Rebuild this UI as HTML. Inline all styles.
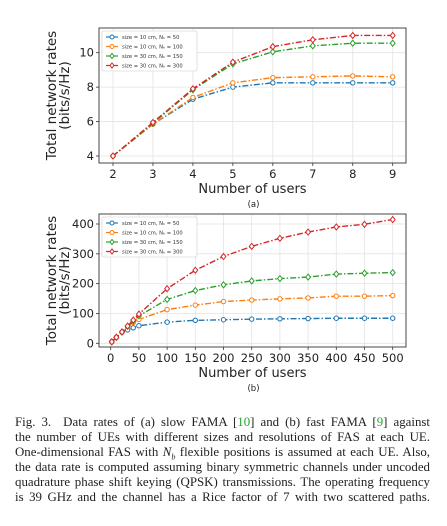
<!DOCTYPE html>
<html><head><meta charset="utf-8"><style>
html,body{margin:0;padding:0;background:#fff;width:447px;height:526px;overflow:hidden}
svg{position:absolute;left:0;top:0}
#cap{position:absolute;left:15px;top:415px;width:415px;font-family:"Liberation Serif",serif;font-size:12.9px;line-height:15px;color:#222}
#cap div{text-align:justify;text-align-last:justify;white-space:nowrap}
#cap .g{color:#2ca02c}
</style></head><body>
<svg id="svg" width="447" height="410"></svg>
<div id="cap">
<div>Fig. 3.&nbsp; Data rates of (a) slow FAMA [<span class="g">10</span>] and (b) fast FAMA [<span class="g">9</span>] against</div>
<div>the number of UEs with different sizes and resolutions of FAS at each UE.</div>
<div>One-dimensional FAS with <i>N<sub style="font-size:8px;line-height:0">b</sub></i> flexible positions is assumed at each UE. Also,</div>
<div>the data rate is computed assuming binary symmetric channels under uncoded</div>
<div>quadrature phase shift keying (QPSK) transmissions. The operating frequency</div>
<div>is 39 GHz and the channel has a Rice factor of 7 with two scattered paths.</div>
</div>
<script>
const seriesLabels=["size = 10 cm, N\u2095 = 50","size = 10 cm, N\u2095 = 100","size = 30 cm, N\u2095 = 150","size = 30 cm, N\u2095 = 300"];
const colors=["#1f77b4","#ff7f0e","#2ca02c","#d62728"];
const aX=[2,3,4,5,6,7,8,9];
const aBlue=[4,5.85,7.3,8.0,8.25,8.25,8.25,8.25];
const aOrange=[4,5.85,7.4,8.25,8.55,8.6,8.65,8.6];
const aGreen=[4,5.9,7.85,9.35,10.05,10.4,10.55,10.55];
const aRed=[4,5.95,7.9,9.45,10.35,10.75,11.0,11.0];
const aXTicks=[2,3,4,5,6,7,8,9];
const aYTicks=[4,6,8,10];
const bX=[2,10,20,30,40,50,100,150,200,250,300,350,400,450,500];
const bBlue=[5,20,37,45,52,59,71,77,79,81,82,83,84,84,84];
const bOrange=[5,20,38,56,70,80,113,128,140,145,149,152,158,158,160];
const bGreen=[5,20,38,57,75,92,147,177,196,209,217,222,232,235,237];
const bRed=[5,20,38,58,78,98,183,245,291,325,352,373,390,399,415];
const bXTicks=[0,50,100,150,200,250,300,350,400,450,500];
const bYTicks=[0,100,200,300,400];
const NS="http://www.w3.org/2000/svg";
const svg=document.getElementById('svg');
function mk(t,a,p){const e=document.createElementNS(NS,t);for(const k in a)e.setAttribute(k,a[k]);(p||svg).appendChild(e);return e;}
function chart(o){
  const sx=v=>o.x0+(v-o.xa)/(o.xb-o.xa)*(o.x1-o.x0);
  const sy=v=>o.y0+(v-o.ya)/(o.yb-o.ya)*(o.y1-o.y0);
  const g=mk('g',{});
  
  
  o.xt.forEach(t=>{
    const l=mk('line',{x1:sx(t),x2:sx(t),y1:o.top,y2:o.bot,stroke:'#e3e3e3','stroke-width':0.8},g);
    
    mk('line',{x1:sx(t),x2:sx(t),y1:o.bot,y2:o.bot+3,stroke:'#333','stroke-width':0.8},g);
    const tx=mk('text',{x:sx(t),y:o.bot+15,'text-anchor':'middle','font-size':11.5,'font-family':'DejaVu Sans, sans-serif',fill:'#222'},g);
    tx.textContent=t;
  });
  o.yt.forEach(t=>{
    const l=mk('line',{x1:o.left,x2:o.right,y1:sy(t),y2:sy(t),stroke:'#e3e3e3','stroke-width':0.8},g);
    
    mk('line',{x1:o.left-3,x2:o.left,y1:sy(t),y2:sy(t),stroke:'#333','stroke-width':0.8},g);
    const tx=mk('text',{x:o.left-5,y:sy(t)+4,'text-anchor':'end','font-size':11.5,'font-family':'DejaVu Sans, sans-serif',fill:'#222'},g);
    tx.textContent=t;
  });
  const fr=mk('rect',{x:o.left,y:o.top,width:o.right-o.left,height:o.bot-o.top,fill:'none',stroke:'#333','stroke-width':0.9},g);
  
  o.series.forEach((s,i)=>{
    const pts=o.xs.map((x,j)=>sx(x)+','+sy(s[j])).join(' ');
    const pl=mk('polyline',{points:pts,fill:'none',stroke:colors[i],'stroke-width':1.4,'stroke-dasharray':'6,2,1.5,2'},g);
    
    o.xs.forEach((x,j)=>{
      const d=i<2?`M${sx(x)-2.2},${sy(s[j])}a2.2,2.2 0 1,0 4.4,0a2.2,2.2 0 1,0 -4.4,0`:`M${sx(x)},${sy(s[j])-3}l2.4,3l-2.4,3l-2.4,-3z`;
      const c=mk('path',{d:d,fill:'#fff',stroke:colors[i],'stroke-width':1},g);
      
    });
  });
  const lg=mk('g',{},g);
  
  mk('rect',{x:o.left+3,y:o.top+3,width:95,height:40,fill:'#fff',stroke:'#ccc','stroke-width':0.6,rx:1.5},lg);
  seriesLabels.forEach((t,i)=>{
    const y=o.top+9+i*9.5;
    const e=mk('g',{},lg);
    
    mk('line',{x1:o.left+7,x2:o.left+19,y1:y,y2:y,stroke:colors[i],'stroke-width':1.2},e);
    if(i<2)mk('circle',{cx:o.left+13,cy:y,r:2,fill:'#fff',stroke:colors[i]},e);
    else mk('path',{d:`M${o.left+13},${y-2.6}l2,2.6l-2,2.6l-2,-2.6z`,fill:'#fff',stroke:colors[i]},e);
    const tx=mk('text',{x:o.left+23,y:y+2,'font-size':5.2,'font-family':'DejaVu Sans, sans-serif',fill:'#333'},e);
    tx.textContent=t;
  });
  const xl=mk('text',{x:(o.left+o.right)/2,y:o.bot+30,'text-anchor':'middle','font-size':13,'font-family':'DejaVu Sans, sans-serif',fill:'#222'},g);
  xl.textContent='Number of users';
  const cy=(o.top+o.bot)/2;
  const yl=mk('text',{transform:`translate(56,${cy}) rotate(-90)`,'text-anchor':'middle','font-size':13.5,'font-family':'DejaVu Sans, sans-serif',fill:'#222'},g);
  yl.textContent='Total network rates';
  const yl2=mk('text',{transform:`translate(69,${cy}) rotate(-90)`,'text-anchor':'middle','font-size':13.5,'font-family':'DejaVu Sans, sans-serif',fill:'#222'},g);
  yl2.textContent='(bits/s/Hz)';
  const sl=mk('text',{x:(o.left+o.right)/2+1,y:o.bot+44,'text-anchor':'middle','font-size':8.5,'font-family':'DejaVu Sans, sans-serif',fill:'#222'},g);
  sl.textContent=o.sub;
}
chart({name:'chart-a',left:99,right:406,top:28,bot:163,xa:2,xb:9,x0:113,x1:392.7,ya:4,yb:10,y0:156,y1:52.7,xt:aXTicks,yt:aYTicks,xs:aX,series:[aBlue,aOrange,aGreen,aRed],sub:'(a)'});
chart({name:'chart-b',left:99,right:406,top:214,bot:347,xa:0,xb:500,x0:110.7,x1:392.7,ya:0,yb:400,y0:343.3,y1:224,xt:bXTicks,yt:bYTicks,xs:bX,series:[bBlue,bOrange,bGreen,bRed],sub:'(b)'});
</script>
</body></html>
